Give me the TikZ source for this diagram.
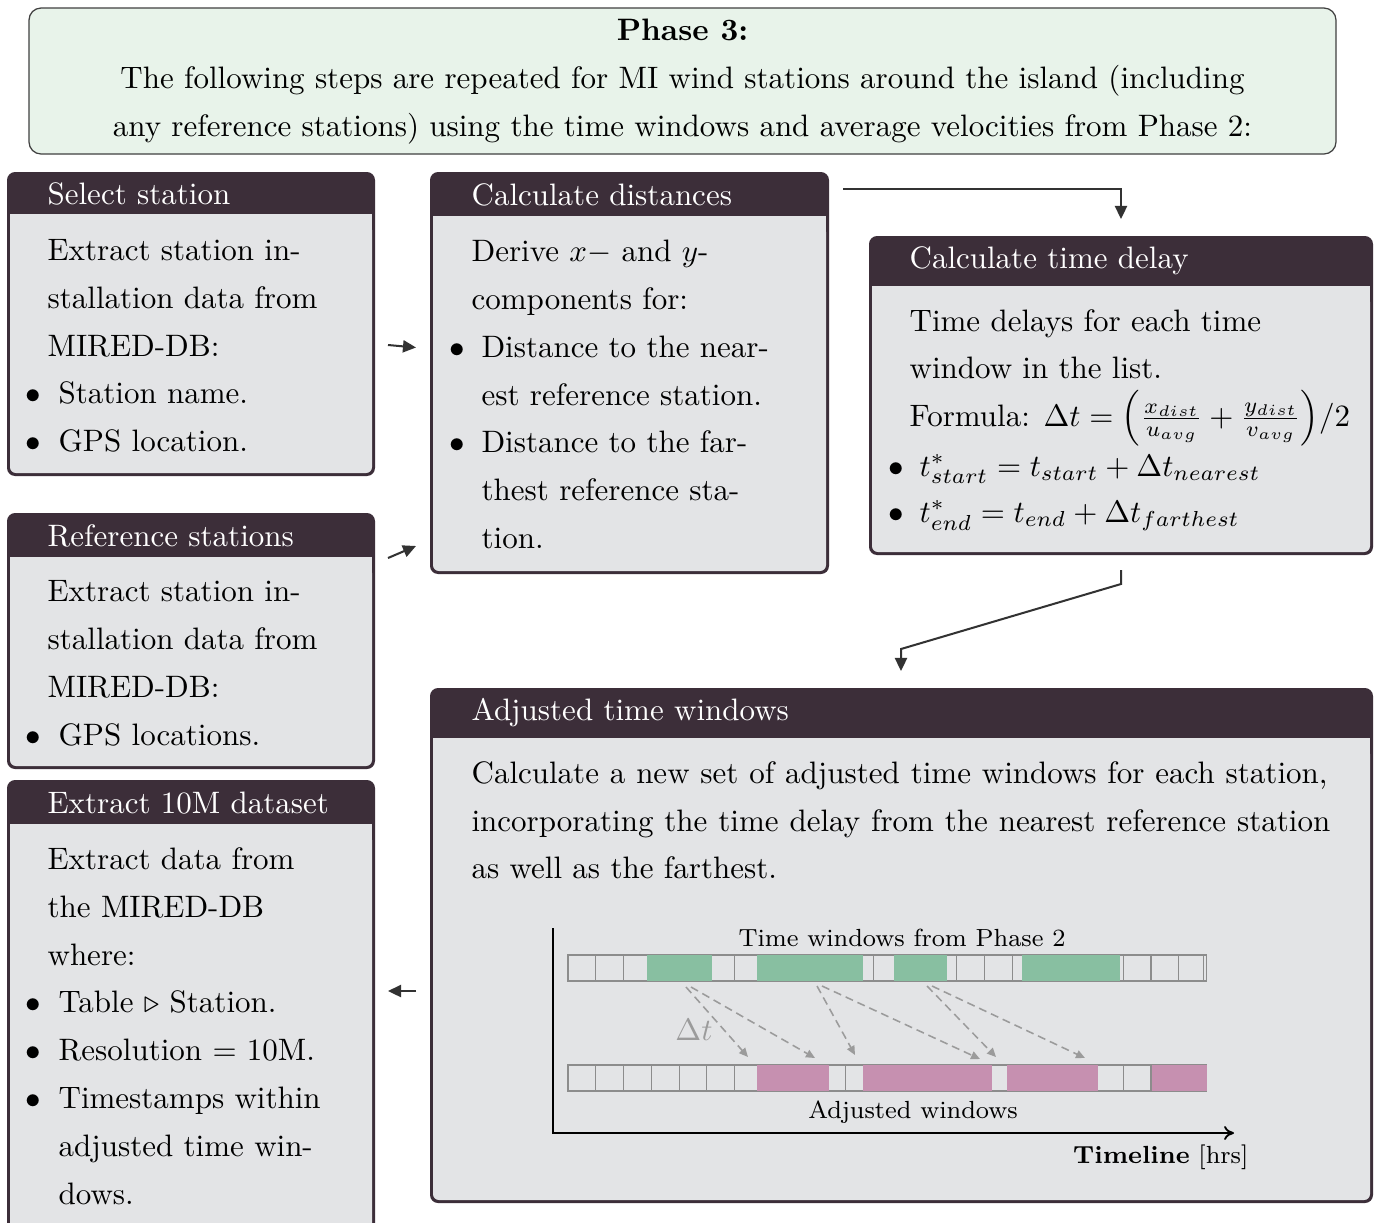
\documentclass[tikz,border=0pt]{standalone}
\usepackage{amsmath,amssymb}
\usetikzlibrary{arrows.meta}
\definecolor{hdr}{RGB}{60,46,57}
\definecolor{bodyc}{RGB}{227,228,230}
\definecolor{topc}{RGB}{232,243,234}
\definecolor{grn}{RGB}{136,191,161}
\definecolor{pnk}{RGB}{198,144,176}
\definecolor{arrc}{RGB}{50,50,50}
\definecolor{dgray}{RGB}{155,155,155}
\definecolor{cellc}{RGB}{140,140,140}
\newcommand\flowbox[5]{%
  \fill[hdr,rounded corners=2.6pt] (#1,#2) rectangle (#3,#4);
  \fill[bodyc] (#1+3,#5) rectangle (#3-3,#5+20);
  \fill[bodyc,rounded corners=1.9pt] (#1+3,#5+10) rectangle (#3-3,#4-3);}
\newcommand\bl[2]{\makebox[#1][l]{$\bullet$}#2}
\begin{document}
\begin{tikzpicture}[x=0.32258pt,y=-0.32258pt,
  txt/.style={inner sep=0pt,anchor=base west,font=\normalsize},
  ttl/.style={txt,text=white},
  small/.style={inner sep=0pt,anchor=base,font=\footnotesize},
  arr/.style={draw=arrc,line width=0.65pt,-{Triangle[length=4.2pt,width=3.9pt]}},
  dsh/.style={draw=dgray,line width=0.5pt,dash pattern=on 2.6pt off 1.6pt,-{Triangle[length=2.9pt,width=2.6pt]}},
  cell/.style={draw=cellc,line width=0.35pt,fill=bodyc}]
\useasboundingbox (0,0) rectangle (1382,1222);
\fill[white] (0,0) rectangle (1382,1222);
\clip (0,0) rectangle (1382,1222);

% top box
\draw[draw=black!75,fill=topc,line width=0.4pt,rounded corners=3.9pt] (29,8) rectangle (1336,154);
\node[txt,anchor=base] (p1) at (682.5,40) {\textbf{Phase 3:}};
\node[txt,anchor=base] (p2) at (682.5,88) {The following steps are repeated for MI wind stations around the island (including};
\node[txt,anchor=base] (p3) at (682.5,136) {any reference stations) using the time windows and average velocities from Phase 2:};

% boxes
\flowbox{7}{172}{375}{476}{214}
\flowbox{7}{513}{375}{769}{557}
\flowbox{7}{780}{375}{1240}{824}
\flowbox{430}{172}{829}{574}{216}
\flowbox{869}{236}{1373}{555}{286}
\flowbox{430}{688}{1373}{1203}{738}

% Select station
\node[ttl] (selT) at (47,204) {Select station};
\node[txt] (s1) at (47,260) {Extract station in-};
\node[txt] (s2) at (47,308) {stallation data from};
\node[txt] (s3) at (47,356) {MIRED-DB:};
\node[txt] (s4) at (25,403) {\bl{10.65pt}{Station name.}};
\node[txt] (s5) at (25,451) {\bl{10.65pt}{GPS location.}};

% Reference stations
\node[ttl] (refT) at (47,546) {Reference stations};
\node[txt] (r1) at (47,601) {Extract station in-};
\node[txt] (r2) at (47,649) {stallation data from};
\node[txt] (r3) at (47,697) {MIRED-DB:};
\node[txt] (r4) at (25,745) {\bl{10.65pt}{GPS locations.}};

% Extract 10M dataset
\node[ttl] (extT) at (47,813) {Extract 10M dataset};
\node[txt] (e1) at (47,869) {Extract data from};
\node[txt] (e2) at (47,917) {the MIRED-DB};
\node[txt] (e3) at (47,965) {where:};
\node[txt] (e4) at (25,1012) {\bl{10.65pt}{Table $\triangleright$ Station.}};
\node[txt] (e5) at (25,1060) {\bl{10.65pt}{Resolution $=$ 10M.}};
\node[txt] (e6) at (25,1108) {\bl{10.65pt}{Timestamps within}};
\node[txt] (e7) at (58,1156) {adjusted time win-};
\node[txt] (e8) at (58,1204) {dows.};

% Calculate distances
\node[ttl] (disT) at (471,205) {Calculate distances};
\node[txt] (d1) at (471,261) {Derive $x-$ and $y$-};
\node[txt] (d2) at (471,309) {components for:};
\node[txt] (d3) at (449,357) {\bl{10.3pt}{Distance to the near-}};
\node[txt] (d4) at (481,405) {est reference station.};
\node[txt] (d5) at (449,452) {\bl{10.3pt}{Distance to the far-}};
\node[txt] (d6) at (481,500) {thest reference sta-};
\node[txt] (d7) at (481,548) {tion.};

% Calculate time delay
\node[ttl] (delT) at (909,268) {Calculate time delay};
\node[txt] (t1) at (909,331) {Time delays for each time};
\node[txt] (t2) at (909,378) {window in the list.};
\node[txt] (t3) at (909,426) {Formula: $\Delta t=\mathord{\left(\frac{x_{dist}}{u_{avg}}+\frac{y_{dist}}{v_{avg}}\right)}/2$};
\node[txt] (t4) at (888,476) {\bl{10pt}{$t^*_{start}=t_{start}+\Delta t_{nearest}$}};
\node[txt] (t5) at (888,522) {\bl{10pt}{$t^*_{end}=t_{end}+\Delta t_{farthest}$}};

% Adjusted time windows
\node[ttl] (adjT) at (471,720) {Adjusted time windows};
\node[txt] (a1) at (471,783) {\makebox[276.1pt][s]{Calculate a new set of adjusted time windows for each station,}};
\node[txt] (a2) at (471,831) {\makebox[277pt][s]{incorporating the time delay from the nearest reference station}};
\node[txt] (a3) at (471,878) {as well as the farthest.};

% timeline diagram
\coordinate (ax0) at (553,928);
\coordinate (ax1) at (553,1133);
\coordinate (ax2) at (1234,1133);
\draw[line width=0.6pt,-{To[length=3.2pt,width=4.5pt]}] (ax0) -- (ax1) -- (ax2);
\node[small] (twT) at (902,946) {Time windows from Phase 2};
\node[small] (awT) at (913,1118) {Adjusted windows};
\node[small,anchor=base east] (tlT) at (1249,1163) {\textbf{Timeline} [hrs]};

\foreach \k in {0,...,22} {
  \draw[cell] ({568+27.76*\k},955) rectangle +(27.76,26);
  \draw[cell] ({568+27.76*\k},1065) rectangle +(27.76,26);
}
\draw[draw=cellc,line width=0.35pt] (1203.5,955) -- (1203.5,981);
\fill[grn] (647,955) rectangle (712,981);
\fill[grn] (757,955) rectangle (863,981);
\fill[grn] (894,955) rectangle (947,981);
\fill[grn] (1022,955) rectangle (1120,981);
\fill[pnk] (757,1065) rectangle (829,1091);
\fill[pnk] (863,1065) rectangle (992,1091);
\fill[pnk] (1007,1065) rectangle (1098,1091);
\fill[pnk] (1152,1065) rectangle (1207,1091);

\coordinate (g1a) at (686,987); \coordinate (g1b) at (748,1057);
\coordinate (g1c) at (691,987); \coordinate (g1d) at (815,1058);
\coordinate (g2a) at (817,986); \coordinate (g2b) at (855,1055);
\coordinate (g2c) at (822,986); \coordinate (g2d) at (980,1059);
\coordinate (g3a) at (927,986); \coordinate (g3b) at (996,1057);
\coordinate (g3c) at (932,986); \coordinate (g3d) at (1085,1058);
\draw[dsh] (g1a) -- (g1b);
\draw[dsh] (g1c) -- (g1d);
\draw[dsh] (g2a) -- (g2b);
\draw[dsh] (g2c) -- (g2d);
\draw[dsh] (g3a) -- (g3b);
\draw[dsh] (g3c) -- (g3d);
\node[txt,anchor=center,text=dgray] (dt) at (694,1030) {$\Delta t$};

% connectors
\coordinate (c1a) at (388,345); \coordinate (c1b) at (416,347.5);
\coordinate (c2a) at (388,558); \coordinate (c2b) at (416,546);
\coordinate (c3a) at (843,189); \coordinate (c3b) at (1121,219);
\coordinate (c4a) at (1121,570); \coordinate (c4b) at (1121,584);
\coordinate (c4c) at (901,649); \coordinate (c4d) at (901,671);
\coordinate (c5a) at (416,991); \coordinate (c5b) at (388,991);
\draw[arr] (c1a) -- (c1b);
\draw[arr] (c2a) -- (c2b);
\draw[arr] (c3a) -| (c3b);
\draw[arr] (c4a) -- (c4b) -- (c4c) -- (c4d);
\draw[arr] (c5a) -- (c5b);
\end{tikzpicture}
\end{document}
